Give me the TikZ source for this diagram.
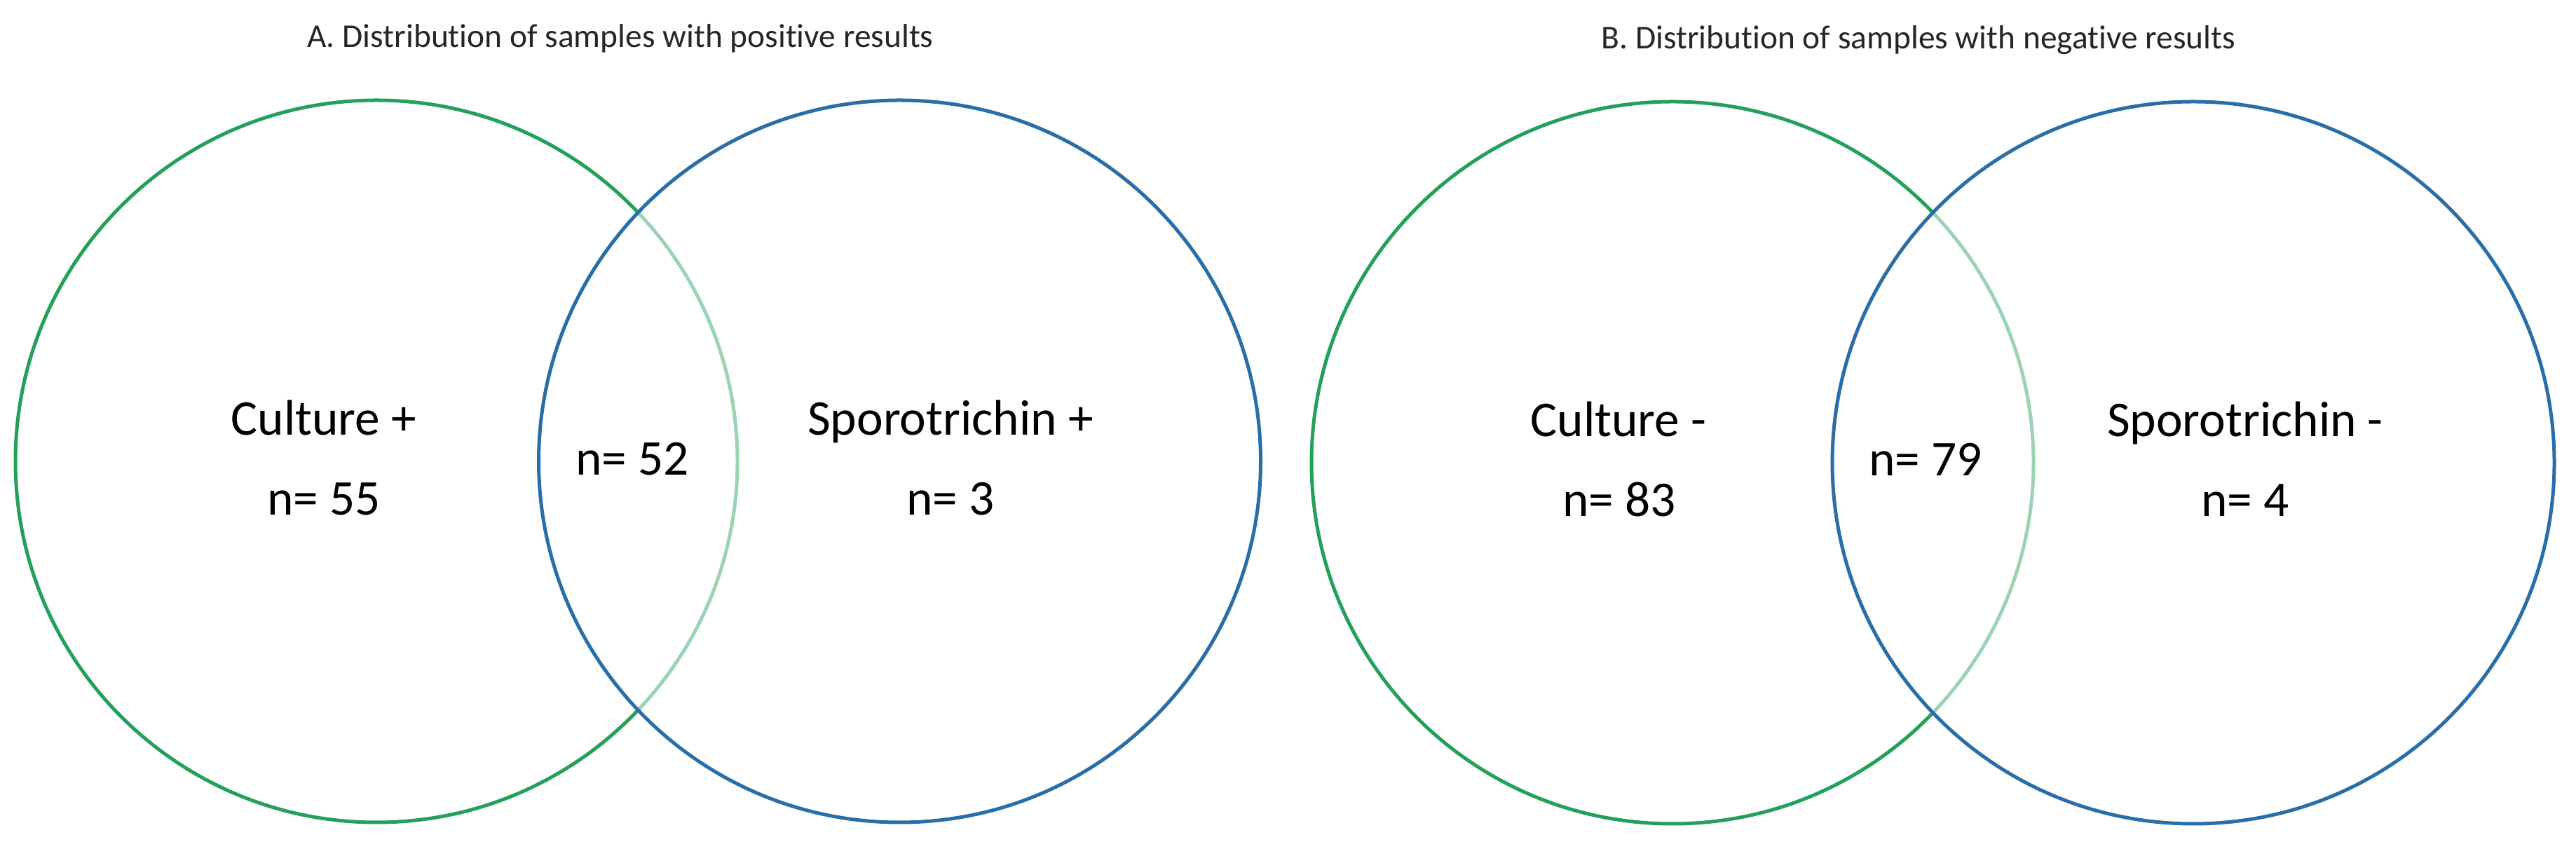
\documentclass[tikz,border=0pt]{standalone}
\usepackage{fontspec}
\setmainfont[Ligatures=NoCommon]{Carlito}
\definecolor{culturegreen}{HTML}{23A05A}
\definecolor{sporoblue}{HTML}{2A6EA8}
\begin{document}
\begin{tikzpicture}[
    culture/.style={circle, draw=culturegreen, line width=0.05cm, minimum size=10.3cm},
    sporo/.style={circle, draw=sporoblue, line width=0.05cm, minimum size=10.3cm, fill=white, fill opacity=0.55, draw opacity=1},
    setlabel/.style={anchor=base, font=\fontsize{20.3}{24}\selectfont, text=black},
    title/.style={anchor=base, font=\fontsize{13.5}{16}\selectfont, text=black!85},
]
\useasboundingbox (0,0) rectangle (36.75,12.01);

% A. positive results
\node[title] (titlePos) at (8.85,11.33) {A. Distribution of samples with positive results};
\node[culture] (cultPos) at (5.37,5.43) {};
\node[sporo] (sporoPos) at (12.835,5.43) {};
\node[setlabel] (cultPosLbl) at (4.62,5.80) {Culture +};
\node[setlabel] (cultPosN) at (4.62,4.66) {n= 55};
\node[setlabel] (bothPosN) at (9.02,5.23) {n= 52};
\node[setlabel] (sporoPosLbl) at (13.56,5.80) {Sporotrichin +};
\node[setlabel] (sporoPosN) at (13.56,4.66) {n= 3};

% B. negative results
\node[title] (titleNeg) at (27.37,11.31) {B. Distribution of samples with negative results};
\node[culture] (cultNeg) at (23.86,5.41) {};
\node[sporo] (sporoNeg) at (31.29,5.41) {};
\node[setlabel] (cultNegLbl) at (23.09,5.78) {Culture -};
\node[setlabel] (cultNegN) at (23.10,4.64) {n= 83};
\node[setlabel] (bothNegN) at (27.47,5.22) {n= 79};
\node[setlabel] (sporoNegLbl) at (32.03,5.78) {Sporotrichin -};
\node[setlabel] (sporoNegN) at (32.03,4.64) {n= 4};

\end{tikzpicture}
\end{document}
